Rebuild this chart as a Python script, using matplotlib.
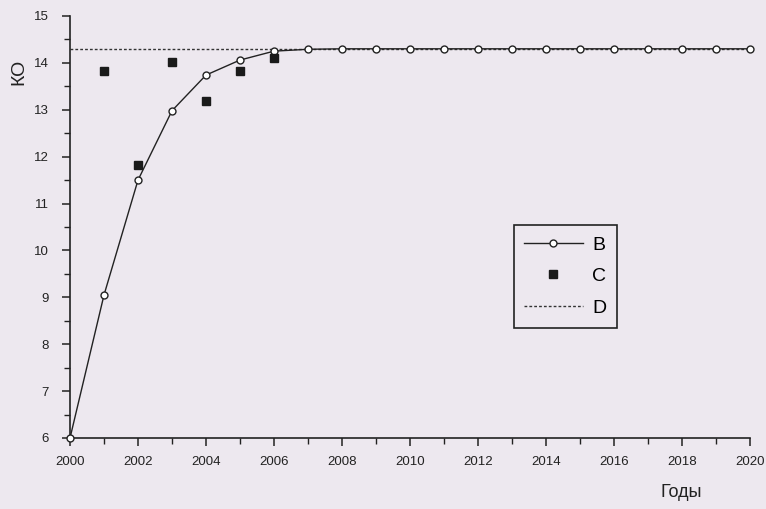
import matplotlib
matplotlib.use('Agg')
import matplotlib.pyplot as plt
from matplotlib.ticker import MultipleLocator

years_b = list(range(2000, 2021))
b_vals = [6.0, 9.05, 11.5, 12.98, 13.74, 14.06, 14.25, 14.29, 14.3, 14.3, 14.3,
          14.3, 14.3, 14.3, 14.3, 14.3, 14.3, 14.3, 14.3, 14.3, 14.3]

years_c = [2001, 2002, 2003, 2004, 2005, 2006]
c_vals = [13.83, 11.83, 14.02, 13.19, 13.82, 14.1]

d_val = 14.3
x_ticks = list(range(2000, 2021, 2))
x_ticklabels = [str(y) for y in x_ticks]
y_ticks = list(range(6, 16))

bg = '#ede8ef'
plt.rcParams['font.family'] = ['Liberation Sans', 'DejaVu Sans']

fig = plt.figure(figsize=(7.66, 5.09), dpi=100, facecolor=bg)
ax = fig.add_axes([0.0914, 0.1395, 0.8876, 0.8291], facecolor=bg)

ax.plot(years_b, b_vals, '-', color='#222222', lw=1.0, marker='o', ms=5,
        mfc='white', mec='#222222', mew=1.0, clip_on=False, label='B', zorder=3)
ax.plot(years_c, c_vals, 's', color='#1a1a1a', ms=5.5, ls='none', label='C',
        zorder=4)
ax.plot([2000, 2020], [d_val, d_val], color='#333333', lw=1.0,
        ls=(0, (2, 1.5)), label='D', zorder=2)

ax.set_xlim(2000, 2020)
ax.set_ylim(6, 15)
ax.set_xticks(x_ticks)
ax.set_xticklabels(x_ticklabels)
ax.xaxis.set_minor_locator(MultipleLocator(1))
ax.set_yticks(y_ticks)
ax.yaxis.set_minor_locator(MultipleLocator(0.5))

for s in ('top', 'right'):
    ax.spines[s].set_visible(False)
for s in ('left', 'bottom'):
    ax.spines[s].set_linewidth(1.2)
    ax.spines[s].set_color('#222222')

ax.tick_params(which='major', length=6, width=1.1, color='#222222',
               labelsize=9.5, labelcolor='#222222')
ax.tick_params(which='minor', length=4, width=1.0, color='#222222')
ax.tick_params(axis='x', pad=7)
ax.tick_params(axis='y', pad=9)

fig.text(0.024, 0.859, 'КО', rotation=90, fontsize=14, color='#222222',
         ha='center', va='center')
fig.text(0.89, 0.033, 'Годы', fontsize=13, color='#222222',
         ha='center', va='center')

leg = ax.legend(loc='upper left', bbox_to_anchor=(0.638, 0.527),
                frameon=True, fancybox=False, edgecolor='#222222',
                facecolor=bg, fontsize=14, handlelength=3.0,
                labelspacing=0.72, borderpad=0.55, handletextpad=0.5)
leg.get_frame().set_linewidth(1.2)
leg.get_frame().set_alpha(1)

fig.savefig('out.png', dpi=100, facecolor=bg)
